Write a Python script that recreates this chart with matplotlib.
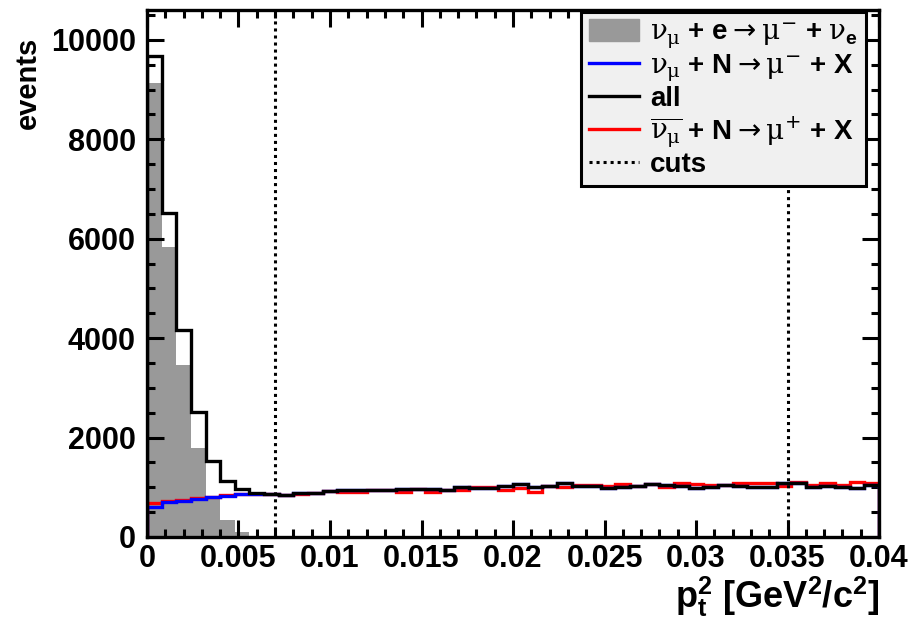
import numpy as np
import matplotlib.pyplot as plt
from matplotlib.patches import Patch
from matplotlib.lines import Line2D

plt.rcParams['font.family'] = ['Liberation Sans', 'DejaVu Sans']
plt.rcParams['font.weight'] = 'bold'
plt.rcParams['mathtext.fontset'] = 'custom'
plt.rcParams['mathtext.rm'] = 'DejaVu Sans:normal'
plt.rcParams['mathtext.it'] = 'DejaVu Serif:normal'
plt.rcParams['mathtext.bf'] = 'Liberation Sans:bold'

# p_t^2 histogram, 50 bins of 0.0008 GeV^2/c^2 from 0 to 0.04
bin_width = 0.0008
n_bins = 50
cuts = [0.007, 0.035]

# nu_mu + e -> mu- + nu_e (only the first bins are non-empty)
nue_scatter = [9130, 5830, 3460, 1790, 760, 340, 100, 30, 10]

# nu_mu + N -> mu- + X
numu_cc = [610, 700, 730, 760, 800, 830, 865, 870, 860,
           850, 890, 890, 925, 945, 945, 945, 945, 966, 966,
           966, 945, 1012, 980, 980, 1026, 1060, 1012, 1026, 1080,
           1026, 1026, 980, 1012, 1030, 1060, 1045, 1032, 980, 1012,
           1045, 1032, 1000, 1000, 1080, 1080, 1000, 1032, 1012, 980,
           1045]

# all
all_events = [9680, 6520, 4165, 2515, 1535, 1133, 960, 891, 865,
              850, 890, 890, 925, 945, 945, 945, 945, 966, 966,
              966, 945, 1012, 980, 980, 1026, 1060, 1012, 1026, 1080,
              1026, 1026, 980, 1012, 1030, 1060, 1045, 1032, 980, 1012,
              1045, 1032, 1000, 1000, 1080, 1080, 1000, 1032, 1012, 980,
              1045]

# anti nu_mu + N -> mu+ + X
anumu_cc = [690, 715, 745, 775, 805, 845, 855, 860, 855,
            840, 860, 890, 925, 900, 900, 945, 945, 915, 960,
            900, 945, 945, 1012, 1012, 950, 980, 915, 1026, 1012,
            1046, 1046, 1026, 1060, 1030, 1060, 1000, 1080, 1060, 1050,
            1045, 1080, 1080, 1080, 1030, 1105, 1046, 1080, 1046, 1105,
            1080]

edges = np.arange(n_bins + 1) * bin_width

fig = plt.figure(figsize=(9.12, 6.35), dpi=100)
ax = fig.add_axes([147 / 912, 1 - 537 / 635, 732 / 912, 527 / 635])

ax.stairs(nue_scatter, edges[:len(nue_scatter) + 1], fill=True,
          color='#999999', linewidth=0, zorder=1)
ax.stairs(anumu_cc, edges, color='red', linewidth=2.4, zorder=2)
ax.stairs(numu_cc, edges, color='blue', linewidth=2.4, zorder=2.1)
ax.stairs(all_events, edges, color='black', linewidth=2.4, zorder=2.2)
for c in cuts:
    ax.axvline(c, color='black', linewidth=2.2, linestyle=(0, (1, 1.3)), zorder=2.3)

ax.set_xlim(0, 0.04)
ax.set_ylim(0, 10600)
ax.set_xticks(np.arange(0, 0.0401, 0.005))
ax.set_xticklabels(['0', '0.005', '0.01', '0.015', '0.02', '0.025', '0.03', '0.035', '0.04'])
ax.set_xticks(np.arange(0, 0.0401, 0.001), minor=True)
ax.set_yticks(np.arange(0, 10001, 2000))
ax.set_yticks(np.arange(0, 10601, 500), minor=True)
ax.tick_params(which='both', direction='in', top=True, right=True, width=2.2,
               labelsize=22)
ax.tick_params(which='major', length=12)
ax.tick_params(which='minor', length=6)
ax.tick_params(axis='x', pad=5)
ax.tick_params(axis='y', pad=8)
for s in ax.spines.values():
    s.set_linewidth(2.4)

ax.set_ylabel('events', fontsize=21, fontweight='bold', loc='top')
ax.yaxis.set_label_coords(-0.143, 0.95)
ax.set_xlabel(r'$\mathbf{p}_{\mathbf{t}}^{\mathbf{2}}$ [GeV$^{\mathbf{2}}$/c$^{\mathbf{2}}$]',
              fontsize=26, fontweight='bold', loc='right')
ax.xaxis.set_label_coords(1.0, -0.072)

handles = [Patch(facecolor='#999999', edgecolor='#999999'),
           Line2D([], [], color='blue', linewidth=2.4),
           Line2D([], [], color='black', linewidth=2.4),
           Line2D([], [], color='red', linewidth=2.4),
           Line2D([], [], color='black', linewidth=2.2, linestyle=(0, (1, 1.3)))]
labels = [r'$\nu_{\mu}$ + e$\rightarrow\mu^{-}$ + $\nu_{\mathbf{e}}$',
          r'$\nu_{\mu}$ + N$\rightarrow\mu^{-}$ + X',
          'all',
          r'$\overline{\nu_{\mu}}$ + N$\rightarrow\mu^{+}$ + X',
          'cuts']
leg = ax.legend(handles, labels, loc='upper right', bbox_to_anchor=(0.982, 0.997),
                prop={'size': 20, 'weight': 'bold'}, frameon=True, fancybox=False,
                facecolor='#f0f0f0', edgecolor='black', framealpha=1,
                handlelength=1.8, handleheight=0.8, handletextpad=0.4,
                labelspacing=0.08, borderpad=0.28, borderaxespad=0)
leg.get_frame().set_linewidth(2.2)
leg.set_zorder(2.4)

fig.savefig('out.png', dpi=100)
